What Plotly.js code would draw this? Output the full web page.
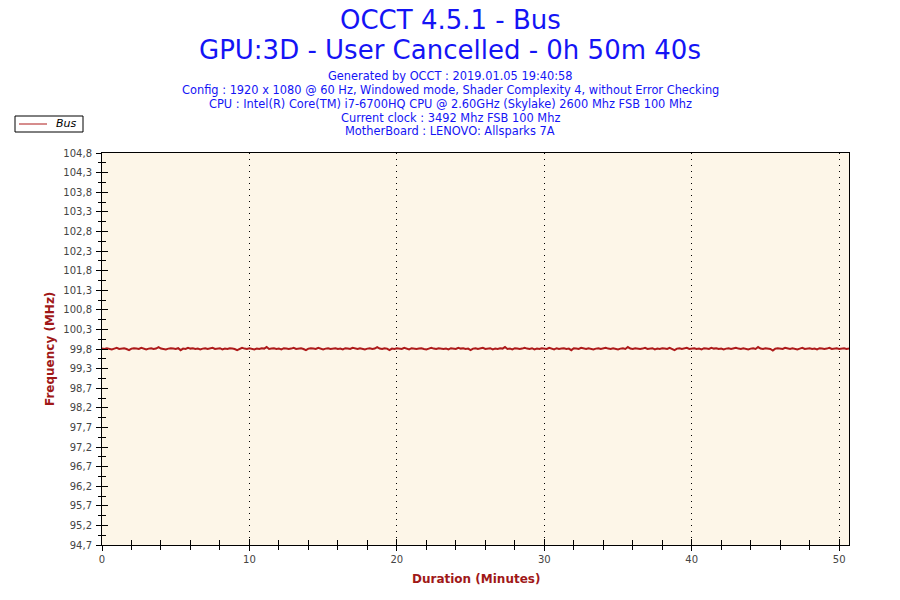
<!DOCTYPE html>
<html><head><meta charset="utf-8">
<script src="https://cdn.plot.ly/plotly-3.0.1.min.js"></script>
<style>html,body{margin:0;padding:0;background:#fff;}#chart{width:900px;height:600px;}</style>
</head><body><div id="chart"></div>
<script>
// ---- data ----
const seriesName = "Bus";
const sampleStepSeconds = 10;
const busMHz = [
99.76,99.75,99.77,99.76,99.74,99.76,99.78,99.75,99.76,99.77,99.75,99.72,99.76,99.77,99.76,99.75,99.78,99.76,99.74,99.76,
99.77,99.75,99.76,99.80,99.76,99.75,99.74,99.76,99.77,99.76,99.75,99.77,99.72,99.76,99.75,99.78,99.76,99.77,99.75,99.76,
99.74,99.76,99.77,99.75,99.76,99.78,99.75,99.76,99.77,99.74,99.76,99.75,99.77,99.76,99.75,99.72,99.76,99.78,99.76,99.75,
99.77,99.76,99.74,99.76,99.75,99.77,99.76,99.80,99.75,99.76,99.77,99.75,99.76,99.74,99.77,99.76,99.75,99.76,99.78,99.75,
99.76,99.77,99.75,99.72,99.76,99.77,99.76,99.75,99.78,99.76,99.74,99.76,99.77,99.75,99.76,99.77,99.75,99.76,99.74,99.77,
99.76,99.75,99.78,99.76,99.75,99.77,99.76,99.74,99.76,99.77,99.75,99.76,99.80,99.76,99.75,99.77,99.76,99.72,99.76,99.75,
99.77,99.76,99.75,99.78,99.76,99.74,99.77,99.76,99.75,99.76,99.77,99.75,99.74,99.76,99.78,99.76,99.75,99.77,99.76,99.75,
99.76,99.74,99.77,99.76,99.75,99.78,99.76,99.77,99.75,99.76,99.72,99.76,99.77,99.75,99.76,99.78,99.75,99.76,99.77,99.74,
99.76,99.75,99.77,99.76,99.80,99.75,99.76,99.74,99.77,99.76,99.75,99.76,99.78,99.76,99.75,99.77,99.74,99.76,99.75,99.77,
99.76,99.75,99.78,99.76,99.74,99.77,99.75,99.76,99.77,99.75,99.76,99.72,99.77,99.76,99.75,99.78,99.76,99.75,99.77,99.76,
99.74,99.76,99.77,99.75,99.76,99.78,99.76,99.75,99.77,99.76,99.74,99.76,99.77,99.75,99.80,99.76,99.75,99.77,99.76,99.75,
99.76,99.78,99.75,99.76,99.77,99.74,99.76,99.75,99.77,99.76,99.75,99.78,99.76,99.72,99.76,99.77,99.75,99.76,99.78,99.75,
99.76,99.77,99.75,99.76,99.74,99.77,99.76,99.75,99.78,99.76,99.77,99.75,99.76,99.74,99.76,99.77,99.75,99.76,99.78,99.76,
99.75,99.77,99.76,99.74,99.76,99.77,99.75,99.80,99.76,99.75,99.77,99.76,99.75,99.71,99.76,99.77,99.76,99.75,99.78,99.76,
99.75,99.77,99.76,99.74,99.76,99.78,99.75,99.76,99.77,99.75,99.76,99.74,99.77,99.76,99.75,99.76,99.78,99.75,99.76,99.77,
99.75,99.76,99.77,99.75,99.76
];
const yTickVals = [94.7,95.205,95.71,96.215,96.72,97.225,97.73,98.235,98.74,99.245,99.75,100.255,100.76,101.265,101.77,102.275,102.78,103.285,103.79,104.295,104.8];
const yTickText = ["94,7","95,2","95,7","96,2","96,7","97,2","97,7","98,2","98,7","99,3","99,8","100,3","100,8","101,3","101,8","102,3","102,8","103,3","103,8","104,3","104,8"];
const yRange = [94.7, 104.8];
const xRangeMinutes = [0, 50.667];
const titleLines = ["OCCT 4.5.1 - Bus", "GPU:3D - User Cancelled - 0h 50m 40s"];
const infoLines = [
  "Generated by OCCT : 2019.01.05 19:40:58",
  "Config : 1920 x 1080 @ 60 Hz, Windowed mode, Shader Complexity 4, without Error Checking",
  "CPU : Intel(R) Core(TM) i7-6700HQ CPU @ 2.60GHz (Skylake) 2600 Mhz FSB 100 Mhz",
  "Current clock : 3492 Mhz FSB 100 Mhz",
  "MotherBoard : LENOVO: Allsparks 7A"
];
const yTitle = "Frequency (MHz)";
const xTitle = "Duration (Minutes)";

// ---- build ----
const minutes = busMHz.map((v, i) => i * sampleStepSeconds / 60);
const yMinor = [];
for (let i = 0; i < yTickVals.length - 1; i++) yMinor.push((yTickVals[i] + yTickVals[i+1]) / 2);

const W = 900, H = 600, mL = 102, mR = 51, mT = 153, mB = 55;
const pw = W - mL - mR, ph = H - mT - mB;
const px = x => (x - mL) / pw;
const py = y => (H - mB - y) / ph;

const FONT = "DejaVu Sans, Tahoma, sans-serif";
const blue = "#1414f5";
const red = "#a01818";
const lineColor = "#ad1a1a";

const traces = [
  {x: minutes, y: busMHz, type: "scatter", mode: "lines", name: seriesName, showlegend: false,
   line: {color: lineColor, width: 2}, xaxis: "x", yaxis: "y"},
  {x: minutes, y: busMHz, type: "scatter", mode: "lines", showlegend: false, hoverinfo: "skip",
   line: {color: "rgba(0,0,0,0)", width: 0}, xaxis: "x2", yaxis: "y2"}
];

const annotations = [];
const tY = [20, 50];
titleLines.forEach((t, i) => annotations.push({text: t, xref: "paper", yref: "paper", x: px(450), y: py(tY[i]),
  xanchor: "center", yanchor: "middle", showarrow: false, font: {family: FONT, size: 26, color: blue}}));
const iY = [76, 90, 104, 118, 131];
infoLines.forEach((t, i) => annotations.push({text: t, xref: "paper", yref: "paper", x: px(450), y: py(iY[i]),
  xanchor: "center", yanchor: "middle", showarrow: false, font: {family: FONT, size: 11.4, color: blue}}));
annotations.push({text: "<b>" + yTitle + "</b>", xref: "paper", yref: "paper", x: px(50), y: 0.5, textangle: -90,
  xanchor: "center", yanchor: "middle", showarrow: false, font: {family: FONT, size: 12, color: red}});
annotations.push({text: "<b>" + xTitle + "</b>", xref: "paper", yref: "paper", x: 0.5, y: py(579),
  xanchor: "center", yanchor: "middle", showarrow: false, font: {family: FONT, size: 12, color: red}});
// legend entry
annotations.push({text: "<i>" + seriesName + "</i>", xref: "paper", yref: "paper", x: px(54), y: py(124),
  xanchor: "left", yanchor: "middle", showarrow: false, font: {family: FONT, size: 11, color: "#000"}});

const shapes = [
  {type: "rect", xref: "paper", yref: "paper", x0: px(15), x1: px(83), y0: py(132), y1: py(116),
   line: {color: "#000", width: 1}, fillcolor: "#fff", layer: "above"},
  {type: "line", xref: "paper", yref: "paper", x0: px(19), x1: px(47), y0: py(124), y1: py(124),
   line: {color: lineColor, width: 1}, layer: "above"}
];

const tickFont = {family: FONT, size: 10, color: "#444"};
const layout = {
  width: W, height: H,
  margin: {l: mL, r: mR, t: mT, b: mB, pad: 0},
  paper_bgcolor: "#ffffff",
  plot_bgcolor: "#fdf6e8",
  showlegend: false,
  xaxis: {range: xRangeMinutes, tickmode: "linear", tick0: 0, dtick: 10,
    ticks: "outside", ticklen: 5, tickcolor: "#000", tickwidth: 1,
    showline: true, linecolor: "#000", linewidth: 1, mirror: true,
    showgrid: true, gridcolor: "#000", griddash: "1px,5px", gridwidth: 1,
    zeroline: false, tickfont: tickFont,
    minor: {tick0: 0, dtick: 2, ticks: "outside", ticklen: 4, tickcolor: "#000", showgrid: false}},
  yaxis: {range: yRange, tickmode: "array", tickvals: yTickVals, ticktext: yTickText,
    ticks: "outside", ticklen: 5, tickcolor: "#000", tickwidth: 1,
    showline: true, linecolor: "#000", linewidth: 1, mirror: true,
    showgrid: false, zeroline: false, tickfont: tickFont, ticklabelstandoff: 2,
    minor: {tickmode: "array", tickvals: yMinor, ticks: "outside", ticklen: 3, tickcolor: "#000", showgrid: false}},
  xaxis2: {range: xRangeMinutes, overlaying: "x", anchor: "y2", side: "bottom", tickmode: "linear", tick0: 0, dtick: 10,
    ticks: "inside", ticklen: 6, tickcolor: "#000", showticklabels: false, showgrid: false, zeroline: false, showline: false,
    minor: {tick0: 0, dtick: 2, ticks: "inside", ticklen: 5, tickcolor: "#000", showgrid: false}},
  yaxis2: {range: yRange, overlaying: "y", anchor: "x2", side: "left", tickmode: "array", tickvals: yTickVals,
    ticks: "inside", ticklen: 6, tickcolor: "#000", showticklabels: false, showgrid: false, zeroline: false, showline: false,
    minor: {tickmode: "array", tickvals: yMinor, ticks: "inside", ticklen: 4, tickcolor: "#000", showgrid: false}},
  annotations: annotations,
  shapes: shapes
};

Plotly.newPlot("chart", traces, layout, {displayModeBar: false, staticPlot: true});
</script></body></html>
